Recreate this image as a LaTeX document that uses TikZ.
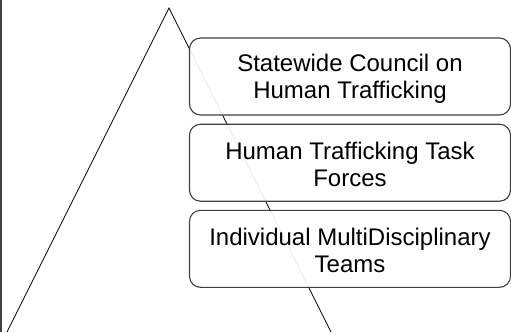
\documentclass[tikz,border=0pt]{standalone}
\usepackage{fontspec}
\setmainfont{Liberation Sans}
\begin{document}
\begin{tikzpicture}[x=1bp,y=-1bp,
  levelbox/.style={draw=black!75, line width=1.1bp, fill=white, fill opacity=0.93, text opacity=1,
    rounded corners=11bp, minimum width=321bp, minimum height=77bp, inner sep=0pt,
    text width=315bp, align=center, font=\fontsize{24bp}{27bp}\selectfont},
  tri/.style={draw=black, line width=0.8bp}]
\useasboundingbox (0,0) rectangle (511,332);
\fill[white] (0,0) rectangle (511,332);
\draw[black!75, line width=2bp] (1,0) -- (1,332);
\coordinate (apex) at (169,8);
\coordinate (bl) at (7,332);
\coordinate (br) at (331,332);
\draw[tri] (bl) -- (apex) -- (br);
\node[levelbox] (b1) at (350,76.5) {};
\node[levelbox] (b2) at (350,162.7) {};
\node[levelbox] (b3) at (350,248.8) {};
\node[font=\fontsize{24bp}{27bp}\selectfont, align=center, inner sep=0pt] (t1) at ([yshift=-2bp]b1.center) {Statewide Council on\\Human Trafficking};
\node[font=\fontsize{24bp}{27bp}\selectfont, align=center, inner sep=0pt] (t2) at ([yshift=-2bp]b2.center) {Human Trafficking Task\\Forces};
\node[font=\fontsize{24bp}{27bp}\selectfont, align=center, inner sep=0pt] (t3) at ([yshift=-2bp]b3.center) {Individual MultiDisciplinary\\Teams};
\end{tikzpicture}
\end{document}
